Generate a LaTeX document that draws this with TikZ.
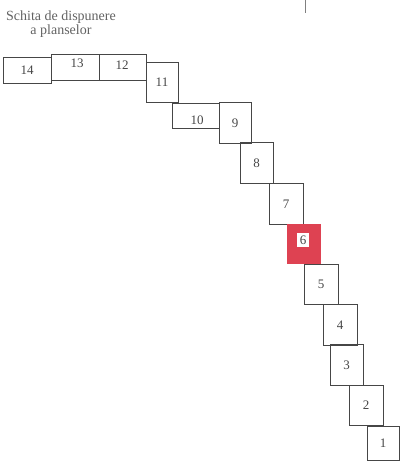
\documentclass[tikz,border=0pt]{standalone}
\usepackage{fontspec}
\setmainfont{Liberation Serif}
\usepackage{xcolor}
\definecolor{plansared}{RGB}{222, 66, 82}
\definecolor{inkgray}{RGB}{70, 70, 70}

\begin{document}
\begin{tikzpicture}[x=1pt, y=-1pt,
    plansa/.style={draw=inkgray, line width=0.7pt, inner sep=0pt, text=inkgray,
        font=\fontsize{13}{13}\selectfont},
    lat/.style={plansa, minimum width=48pt, minimum height=26pt},
    inalt/.style={plansa, minimum width=33pt, minimum height=40.5pt},
    numar/.style={text=inkgray, inner sep=0pt, font=\fontsize{13}{13}\selectfont}]
    \useasboundingbox (0,0) rectangle (401,464);
    % title
    \node[align=center, inner sep=0pt, anchor=north, text=inkgray!85,
        font=\fontsize{14}{10.5}\selectfont] (titlu) at (61,10.5) {Schita de dispunere\\a planselor};
    \draw[gray, line width=0.8pt] (305,0) -- (305,13);
    % top row
    \node[lat] (p14) at (27,70) {14};
    \node[lat] (p13) at (75,67) {};
    \node[lat, minimum width=47pt] (p12) at (122.5,67) {};
    \node[numar] at (77,63) {13};
    \node[numar] at (122,65) {12};
    \node[inalt, minimum width=32pt] (p11) at (162,82.5) {11};
    \node[lat, minimum width=47pt, minimum height=25pt] (p10) at (195.5,115.5) {};
    \node[numar] at (197,120) {10};
    \node[inalt, minimum width=32pt] (p9) at (235,123) {9};
    % descending stair
    \node[inalt] (p8) at (256.5,163) {8};
    \node[inalt, minimum width=34pt] (p7) at (286,204) {7};
    \node[inalt, minimum width=34pt, draw=none, fill=plansared] (p6) at (304,244) {};
    \node[numar, fill=white, minimum width=12pt, minimum height=14pt] (n6) at (303,240) {6};
    \node[inalt, minimum width=34pt] (p5) at (321,284.5) {5};
    \node[inalt, minimum width=34pt] (p4) at (340,325) {4};
    \node[inalt] (p3) at (346.5,365) {3};
    \node[inalt, minimum width=34pt] (p2) at (366,405.5) {2};
    \node[inalt, minimum width=32pt, minimum height=34pt] (p1) at (383,443) {1};
\end{tikzpicture}
\end{document}
